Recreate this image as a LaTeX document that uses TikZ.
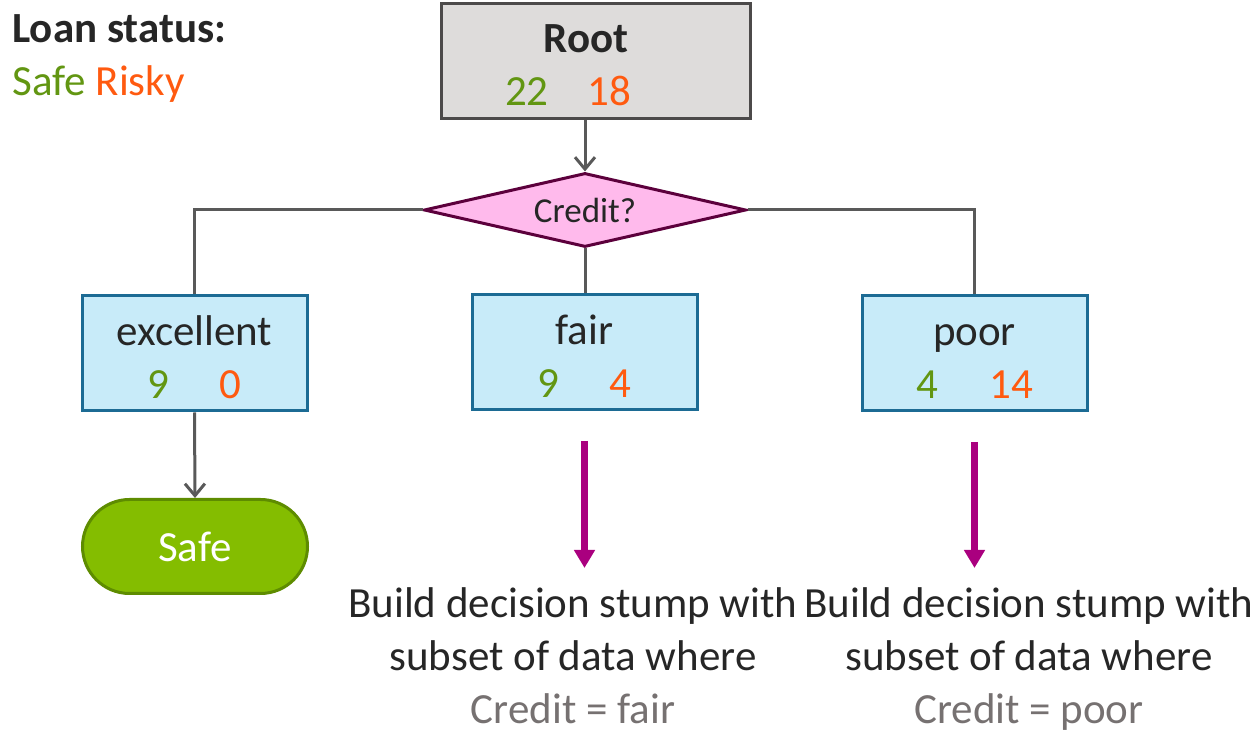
\documentclass[tikz,border=0pt]{standalone}
\usepackage{fontspec}
\setmainfont{Carlito}
\usetikzlibrary{shapes.geometric,positioning,arrows.meta}
\definecolor{safegreen}{RGB}{98,150,18}
\definecolor{riskyorange}{RGB}{255,90,16}
\definecolor{darktext}{RGB}{38,38,38}
\definecolor{notegray}{RGB}{118,113,113}
\definecolor{rootfill}{RGB}{222,220,219}
\definecolor{rootline}{RGB}{76,74,74}
\definecolor{splitfill}{RGB}{255,186,236}
\definecolor{splitline}{RGB}{92,0,60}
\definecolor{leaffill}{RGB}{200,235,249}
\definecolor{leafline}{RGB}{28,107,148}
\definecolor{safefill}{RGB}{132,189,0}
\definecolor{safeline}{RGB}{94,140,0}
\definecolor{linkgray}{RGB}{89,89,89}
\definecolor{stumppink}{RGB}{170,0,127}
\tikzset{
  bigtext/.style={font=\fontsize{21.5}{26.5}\selectfont},
  rootbox/.style={draw=rootline, fill=rootfill, line width=1.5pt, minimum width=154.5pt, minimum height=57.5pt, align=center, text=darktext, bigtext},
  leaf/.style={draw=leafline, fill=leaffill, line width=1.5pt, minimum width=112.5pt, minimum height=57.5pt, align=center, text=darktext, bigtext},
  link/.style={draw=linkgray, line width=1.5pt},
  down/.style={link, -{Straight Barb[length=6pt,width=10pt]}},
  bigarrow/.style={draw=stumppink, line width=3.5pt, -{Triangle[width=10pt,length=9pt]}}
}

\begin{document}
\begin{tikzpicture}[x=0.5pt,y=-0.5pt]
    \useasboundingbox (0,0) rectangle (1260,731);

    % legend
    \node[anchor=north west, align=left, inner sep=0pt, text=darktext, bigtext] (legend) at (12,14)
        {\textbf{Loan status:}\\{\color{safegreen}Safe} {\color{riskyorange}Risky}};

    % root and split
    \node[rootbox] (root) at (596,61) {\strut\textbf{Root}\hspace*{10pt}\\{\color{safegreen}22}\hspace{0.9em}{\color{riskyorange}18}\hspace*{28pt}};
    \node[diamond, shape aspect=4.3, draw=splitline, fill=splitfill, line width=1.5pt, minimum width=161pt, minimum height=37pt, inner sep=0pt,
          text=darktext, font=\fontsize{17.5}{20}\selectfont] (credit) at (585,210) {Credit?};

    % one box per value of credit
    \node[leaf] (excellent) at (194.5,353.5) {\strut excellent\\{\color{safegreen}9}\hspace{1.15em}{\color{riskyorange}0}};
    \node[leaf] (fair) at (584.5,352) {\strut fair\\{\color{safegreen}9}\hspace{1.15em}{\color{riskyorange}4}};
    \node[leaf] (poor) at (974.5,353) {\strut poor\\{\color{safegreen}4}\hspace{1.2em}{\color{riskyorange}14}};

    % leaf
    \node[draw=safeline, fill=safefill, line width=1.5pt, rounded corners=23.5pt, minimum width=112.5pt, minimum height=47pt,
          text=white, bigtext] (safe) at (195,546.5) {Safe};

    % what is left to do
    \node[anchor=north, align=center, inner sep=0pt, text=darktext, bigtext] (stumpfair) at (573,587)
        {Build decision stump with\\subset of data where\\{\color{notegray}Credit = fair}};
    \node[anchor=north, align=center, inner sep=0pt, text=darktext, bigtext] (stumppoor) at (1029,587)
        {Build decision stump with\\subset of data where\\{\color{notegray}Credit = poor}};

    % connectors
    \draw[down] (root.south -| credit.north) -- (credit.north);
    \draw[link] (credit.west) -| (excellent.north);
    \draw[link] (credit.south) -- (credit.south |- fair.north);
    \draw[link] (credit.east) -| (poor.north);
    \draw[down] (excellent.south) -- (safe.north);

    \draw[bigarrow, shorten <=15pt, shorten >=9.5pt] (fair.south) -- (fair.south |- stumpfair.north);
    \draw[bigarrow, shorten <=15pt, shorten >=9.5pt] (poor.south) -- (poor.south |- stumppoor.north);
\end{tikzpicture}
\end{document}
